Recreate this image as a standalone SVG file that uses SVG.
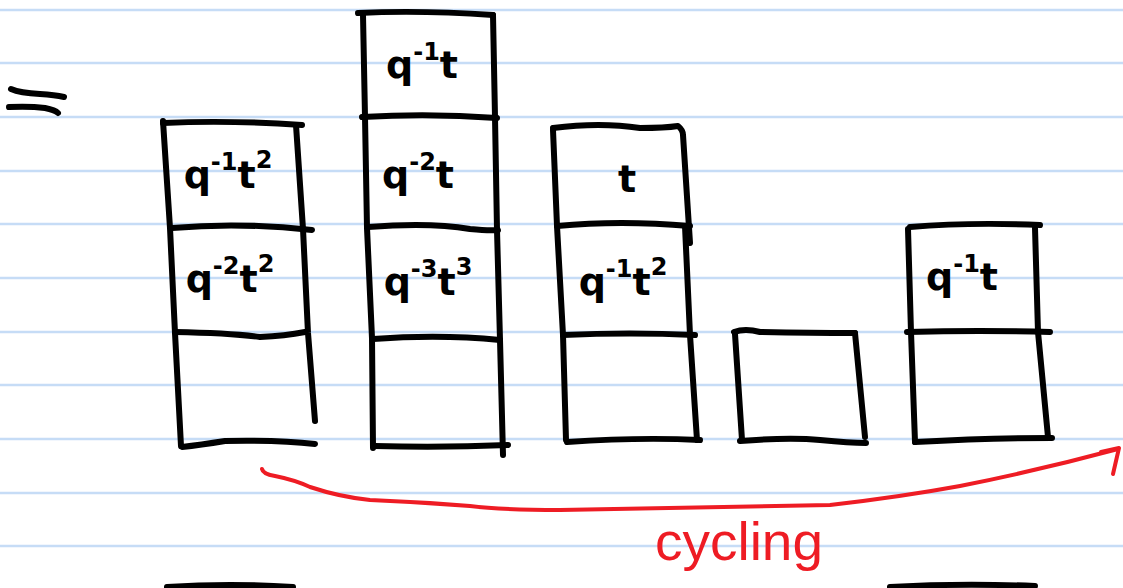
<svg xmlns="http://www.w3.org/2000/svg" width="1123" height="588" viewBox="0 0 1123 588">
<style>
.rule{stroke:#c6dcf6;stroke-width:2.5}
.box{fill:none;stroke:#000;stroke-width:6;stroke-linecap:round;stroke-linejoin:round}
.lbl{font-family:"DejaVu Sans",sans-serif;font-size:38px;font-weight:bold;fill:#000;text-anchor:middle}
.sup{font-size:24px}
.red{fill:none;stroke:#ee1c24;stroke-width:4;stroke-linecap:round;stroke-linejoin:round}
.cyc{font-family:"Liberation Sans",sans-serif;font-size:54px;fill:#ee1c24}
</style>
<rect width="1123" height="588" fill="#fff"/>
<g id="rules">
<line class="rule" x1="0" y1="10" x2="1123" y2="10"/>
<line class="rule" x1="0" y1="63" x2="1123" y2="63"/>
<line class="rule" x1="0" y1="117" x2="1123" y2="117"/>
<line class="rule" x1="0" y1="171" x2="1123" y2="171"/>
<line class="rule" x1="0" y1="224" x2="1123" y2="224"/>
<line class="rule" x1="0" y1="278" x2="1123" y2="278"/>
<line class="rule" x1="0" y1="332" x2="1123" y2="332"/>
<line class="rule" x1="0" y1="385" x2="1123" y2="385"/>
<line class="rule" x1="0" y1="439" x2="1123" y2="439"/>
<line class="rule" x1="0" y1="493" x2="1123" y2="493"/>
<line class="rule" x1="0" y1="546" x2="1123" y2="546"/>
</g>
<g id="equals">
<path class="box" d="M11 89 Q20 93 40 94 Q55 95 64 97"/>
<path class="box" d="M9 107 Q30 106 45 108 Q55 110 58 113"/>
</g>
<g id="col1">
<path class="box" d="M163 121 L170 228 L175 333 L181 446"/>
<path class="box" d="M163 123 Q230 120 302 125"/>
<path class="box" d="M296 125 L303 229 L308 333 L315 421"/>
<path class="box" d="M172 228 Q240 222 312 230"/>
<path class="box" d="M175 332 Q230 333 260 337 Q285 336 305 332"/>
<path class="box" d="M182 447 Q200 445 225 441 Q280 440 315 444"/>
<text class="lbl" x="228" y="188">q<tspan class="sup" dy="-18">-1</tspan><tspan dy="18">t</tspan><tspan class="sup" dy="-20">2</tspan></text>
<text class="lbl" x="230" y="292">q<tspan class="sup" dy="-18">-2</tspan><tspan dy="18">t</tspan><tspan class="sup" dy="-20">2</tspan></text>
</g>
<g id="col2">
<path class="box" d="M358 13 Q420 10 493 15"/>
<path class="box" d="M363 15 L365 117 L367 228 L372 338 L373 448"/>
<path class="box" d="M493 15 L495 117 L497 230 L500 340 L503 455"/>
<path class="box" d="M362 117 Q430 113 497 118"/>
<path class="box" d="M368 227 Q430 222 470 229 Q490 231 498 230"/>
<path class="box" d="M373 339 Q440 334 500 340"/>
<path class="box" d="M375 446 Q440 448 508 445"/>
<text class="lbl" x="422" y="78">q<tspan class="sup" dy="-18">-1</tspan><tspan dy="18">t</tspan></text>
<text class="lbl" x="418" y="188">q<tspan class="sup" dy="-18">-2</tspan><tspan dy="18">t</tspan></text>
<text class="lbl" x="428" y="295">q<tspan class="sup" dy="-18">-3</tspan><tspan dy="18">t</tspan><tspan class="sup" dy="-20">3</tspan></text>
</g>
<g id="col3">
<path class="box" d="M553 128 Q600 122 640 128 Q665 128 678 126 Q683 130 683 135 L690 243"/>
<path class="box" d="M553 130 L557 226 L563 335 L566 440"/>
<path class="box" d="M557 226 Q620 220 690 226"/>
<path class="box" d="M560 226 M685 226 L690 335 L697 440"/>
<path class="box" d="M563 335 Q630 332 695 335"/>
<path class="box" d="M567 442 Q640 437 700 440"/>
<text class="lbl" x="627" y="192">t</text>
<text class="lbl" x="623" y="295">q<tspan class="sup" dy="-18">-1</tspan><tspan dy="18">t</tspan><tspan class="sup" dy="-20">2</tspan></text>
</g>
<g id="col4">
<path class="box" d="M734 332 Q745 328 760 332 Q810 333 855 333"/>
<path class="box" d="M735 334 L742 440"/>
<path class="box" d="M855 333 L865 437"/>
<path class="box" d="M740 441 Q790 437 820 440 Q850 443 866 443"/>
</g>
<g id="col5">
<path class="box" d="M910 227 Q970 222 1040 225"/>
<path class="box" d="M908 229 L911 332 L915 442"/>
<path class="box" d="M1035 228 L1038 332 L1048 437"/>
<path class="box" d="M907 332 Q980 330 1050 332"/>
<path class="box" d="M915 442 Q990 438 1052 438"/>
<text class="lbl" x="962" y="290">q<tspan class="sup" dy="-18">-1</tspan><tspan dy="18">t</tspan></text>
</g>
<g id="below">
<path class="box" d="M167 587 Q230 583 293 587"/>
<path class="box" d="M890 587 Q960 583 1035 586"/>
</g>
<g id="connectors">
<path class="red" d="M262 469 Q263 474 275 476 Q295 480 310 487 Q340 497 370 500 Q420 502 470 506 Q500 510 560 510 Q700 508 830 505 Q900 497 960 486 Q1040 470 1118 449"/>
<path class="red" d="M1101 452 L1119 448 L1113 474"/>
<text class="cyc" x="655" y="560" textLength="168" lengthAdjust="spacingAndGlyphs">cycling</text>
</g>
</svg>
